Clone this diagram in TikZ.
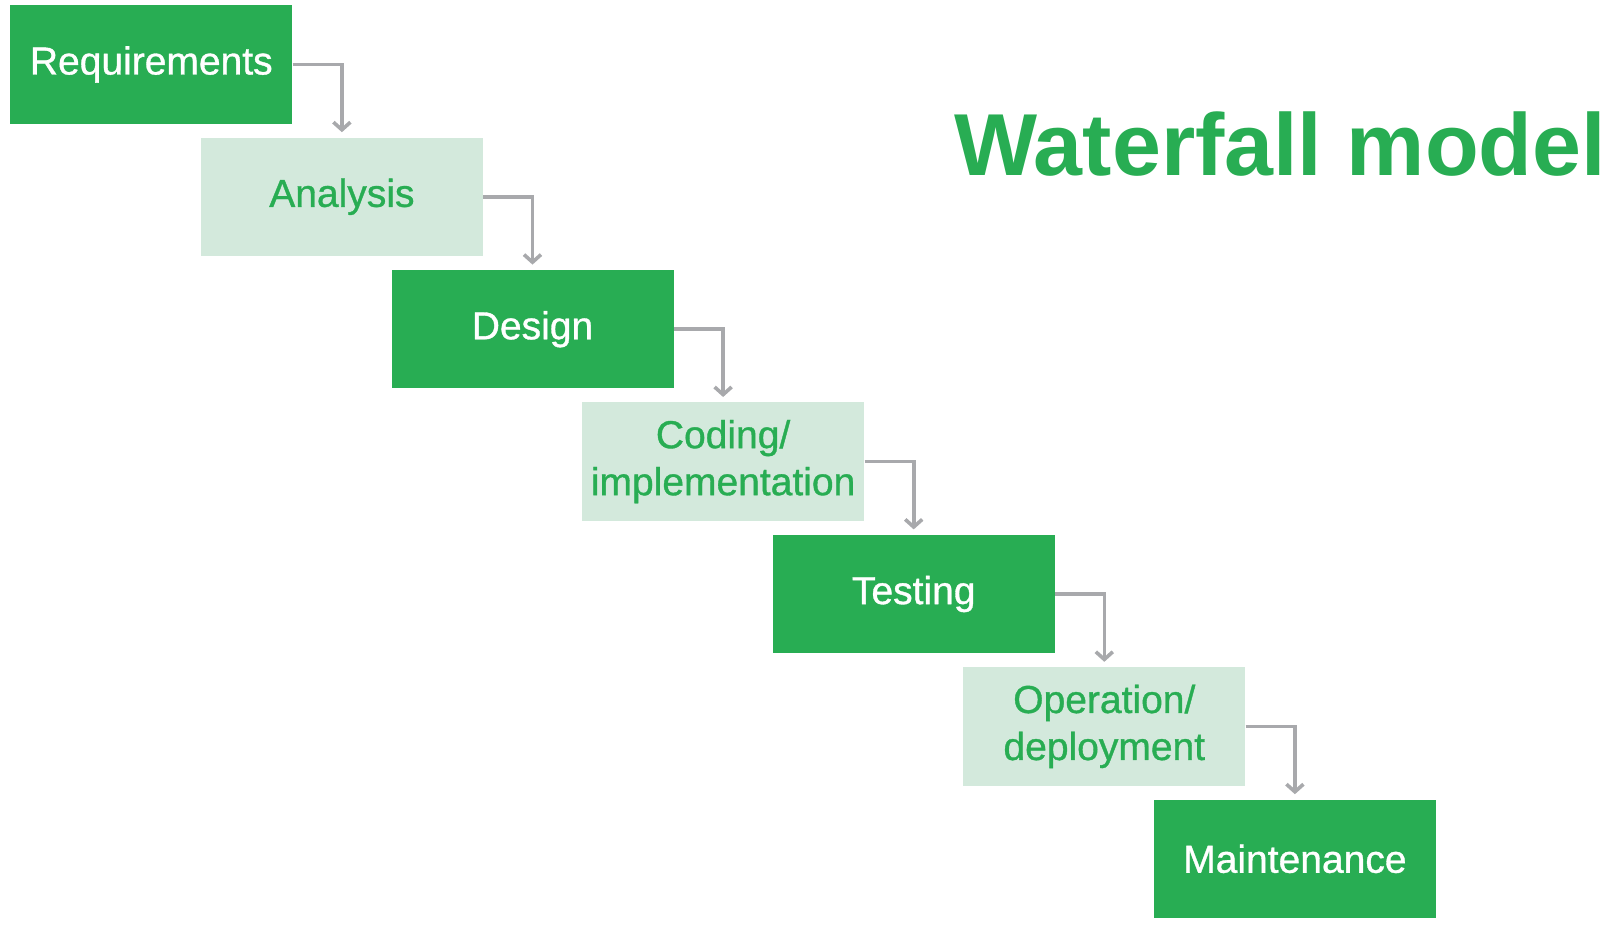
\documentclass[tikz,border=0pt]{standalone}
\usepackage{fontspec}
\setmainfont{Liberation Sans}
\newfontfamily\phasefont[FakeBold=0.9]{Liberation Sans}
\usetikzlibrary{arrows.meta,positioning}
\definecolor{FallGreen}{RGB}{40,173,83}
\definecolor{FallMint}{RGB}{211,233,220}
\definecolor{FallGrey}{RGB}{168,169,172}

\begin{document}
\begin{tikzpicture}[x=0.5pt,y=-0.5pt,node distance=6.6pt,>={Straight Barb[length=3.8pt,width=8.5pt]},
 phase/.style={minimum width=141pt,minimum height=59.2pt,inner sep=0pt,align=center,
  font=\phasefont\fontsize{19.5}{23.5}\selectfont},
 darkphase/.style={phase,fill=FallGreen,text=white},
 lightphase/.style={phase,fill=FallMint,text=FallGreen},
 flow/.style={->,FallGrey,line width=1.8pt,shorten >=2.5pt}]
\useasboundingbox (0,0) rectangle (1615,937);
\node[darkphase] (req) at (151.3,64.4) {Requirements};
\node[lightphase,below=of req,xshift=95.3pt] (ana) {Analysis};
\node[darkphase,below=of ana,xshift=95.3pt] (des) {Design};
\node[lightphase,below=of des,xshift=95.3pt] (code) {Coding/\\implementation};
\node[darkphase,below=of code,xshift=95.3pt] (test) {Testing};
\node[lightphase,below=of test,xshift=95.3pt] (ops) {Operation/\\deployment};
\node[darkphase,below=of ops,xshift=95.3pt] (maint) {Maintenance};
\draw[flow] (req.east) -| (ana.north);
\draw[flow] (ana.east) -| (des.north);
\draw[flow] (des.east) -| (code.north);
\draw[flow] (code.east) -| (test.north);
\draw[flow] (test.east) -| (ops.north);
\draw[flow] (ops.east) -| (maint.north);
\node[anchor=base,text=FallGreen,font=\fontsize{44}{50}\bfseries\selectfont] (title) at (1280,175) {Waterfall model};
\end{tikzpicture}
\end{document}
